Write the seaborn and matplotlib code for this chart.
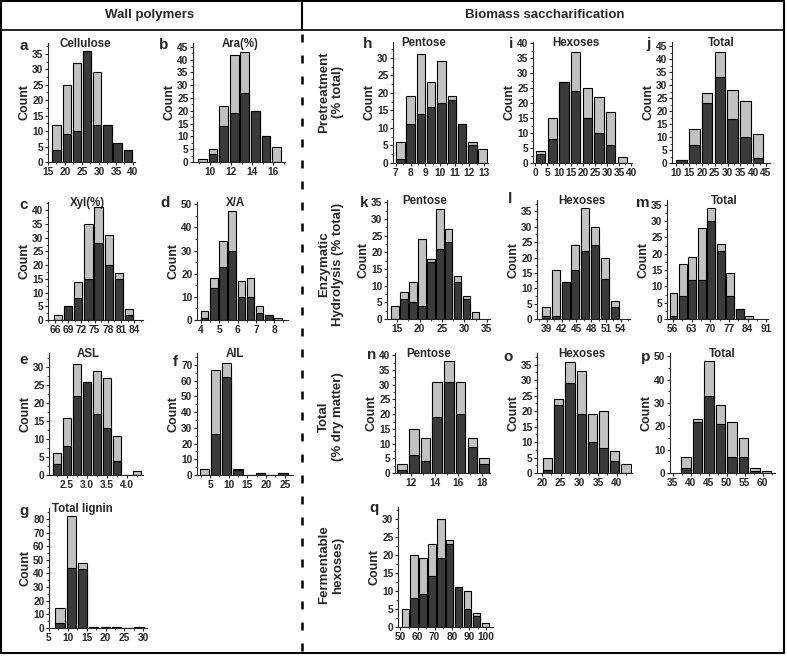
import matplotlib
matplotlib.use("Agg")
import matplotlib.pyplot as plt
from matplotlib.ticker import AutoMinorLocator
import seaborn as sns

# ---- data (bin centre, total count, dark subset count) ----
cellulose_bins = [17.5, 20.5, 23.5, 26.5, 29.5, 32.5, 35.5, 38.5]
cellulose_total = [12, 25, 32, 36, 29, 12, 6, 4]
cellulose_dark = [4, 9, 10, 36, 12, 12, 6, 4]

ara_bins = [9.3, 10.3, 11.3, 12.3, 13.3, 14.3, 15.3, 16.3]
ara_total = [1, 5, 22, 42, 43, 20, 10, 6]
ara_dark = [0, 3, 14, 19, 27, 20, 10, 0]

xyl_bins = [66.7, 69.0, 71.3, 73.6, 75.9, 78.2, 80.5, 82.8]
xyl_total = [2, 5, 14, 35, 41, 31, 17, 4]
xyl_dark = [0, 5, 8, 15, 28, 20, 15, 2]

xa_bins = [4.2, 4.7, 5.2, 5.7, 6.2, 6.7, 7.2, 7.7, 8.2]
xa_total = [4, 18, 34, 47, 17, 18, 6, 2, 1]
xa_dark = [1, 14, 23, 30, 10, 10, 3, 2, 0]

asl_bins = [2.25, 2.5, 2.75, 3.0, 3.25, 3.5, 3.75, 4.0, 4.25]
asl_total = [6, 16, 31, 26, 29, 27, 11, 0, 1]
asl_dark = [3, 8, 22, 26, 17, 13, 4, 0, 0]

ail_bins = [3.5, 6.5, 9.5, 12.5, 15.5, 18.5, 21.5, 24.5]
ail_total = [4, 67, 71, 4, 0, 1, 0, 1]
ail_dark = [0, 26, 62, 3, 0, 1, 0, 1]

lignin_bins = [7.9, 10.9, 13.9, 16.9, 19.9, 22.9, 25.9, 28.9]
lignin_total = [15, 82, 48, 1, 1, 1, 0, 1]
lignin_dark = [4, 44, 43, 1, 1, 1, 0, 1]

pt_pent_bins = [7.3, 8.0, 8.7, 9.4, 10.1, 10.8, 11.5, 12.2, 12.9]
pt_pent_total = [6, 19, 31, 23, 29, 19, 11, 6, 4]
pt_pent_dark = [1, 11, 14, 16, 17, 18, 11, 5, 0]

pt_hex_bins = [2.2, 7.1, 12.0, 16.8, 21.7, 26.6, 31.5, 36.4]
pt_hex_total = [4, 15, 27, 37, 25, 22, 17, 2]
pt_hex_dark = [3, 8, 27, 24, 15, 10, 6, 0]

pt_tot_bins = [12, 17, 22, 27, 32, 37, 42]
pt_tot_total = [1, 13, 27, 43, 28, 24, 11]
pt_tot_dark = [1, 7, 23, 33, 17, 10, 2]

eh_pent_bins = [14.5, 16.5, 18.5, 20.5, 22.5, 24.5, 26.5, 28.5, 30.5, 32.5]
eh_pent_total = [4, 8, 11, 24, 18, 33, 27, 13, 7, 2]
eh_pent_dark = [0, 6, 5, 4, 17, 21, 23, 11, 6, 0]

eh_hex_bins = [38.8, 40.8, 42.8, 44.8, 46.8, 48.8, 50.8, 52.8]
eh_hex_total = [4, 16, 12, 24, 36, 30, 20, 6]
eh_hex_dark = [1, 1, 12, 16, 22, 24, 13, 4]

eh_tot_bins = [56.2, 59.75, 63.3, 66.85, 70.4, 73.95, 77.5, 81.05, 84.6]
eh_tot_total = [8, 17, 19, 28, 34, 23, 14, 3, 1]
eh_tot_dark = [1, 7, 12, 12, 30, 21, 7, 3, 0]

dm_pent_bins = [11.2, 12.2, 13.2, 14.2, 15.2, 16.2, 17.2, 18.2]
dm_pent_total = [3, 15, 12, 31, 38, 31, 12, 5]
dm_pent_dark = [1, 6, 4, 19, 31, 20, 9, 3]

dm_hex_bins = [21.5, 24.5, 27.5, 30.5, 33.5, 36.5, 39.5, 42.5]
dm_hex_total = [5, 24, 36, 33, 19, 20, 7, 3]
dm_hex_dark = [1, 22, 29, 19, 10, 8, 4, 0]

dm_tot_bins = [38.7, 41.9, 45.1, 48.3, 51.5, 54.7, 57.9, 61.1]
dm_tot_total = [7, 23, 48, 29, 22, 15, 2, 1]
dm_tot_dark = [2, 22, 33, 21, 7, 7, 1, 0]

ferm_bins = [52.8, 58.0, 63.2, 68.4, 73.6, 78.8, 84.0, 89.2, 94.4, 99.6]
ferm_total = [5, 20, 19, 23, 30, 24, 11, 10, 4, 1]
ferm_dark = [0, 8, 9, 14, 19, 23, 11, 5, 3, 0]

LIGHT = "#c2c2c2"
DARK = "#3a3a3a"
W, H = 787, 656

sns.set_style("ticks")
plt.rcParams["font.family"] = ["Liberation Sans", "DejaVu Sans"]
plt.rcParams["font.weight"] = "bold"
plt.rcParams["axes.labelweight"] = "bold"

fig = plt.figure(figsize=(W / 100, H / 100), dpi=100)

# background layer for frame, divider lines and section texts (pixel coords)
bg = fig.add_axes([0, 0, 1, 1])
bg.set_xlim(0, W)
bg.set_ylim(H, 0)
bg.set_axis_off()
bg.plot([1, 784, 784, 1, 1], [1, 1, 653, 653, 1], color="black", lw=1.5)
bg.plot([1, 784], [30, 30], color="black", lw=1.2)
bg.plot([302, 302], [1, 30], color="black", lw=1.5)
bg.plot([302, 302], [34, 653], color="black", lw=1.8, linestyle=(0, (3.2, 5.2)))
bg.text(150, 15, "Wall polymers", ha="center", va="center", fontsize=9.5, fontweight="bold")
bg.text(545, 15, "Biomass saccharification", ha="center", va="center", fontsize=9.5, fontweight="bold")

row_labels = [("Pretreatment\n(% total)", 92), ("Enzymatic\nHydrolysis (% total)", 264),
              ("Total\n(% dry matter)", 417), ("Fermentable\nhexoses)", 565)]
for txt, yc in row_labels:
    bg.text(331, yc, txt, ha="center", va="center", rotation=90, fontsize=9.5,
            fontweight="bold", linespacing=1.3)


def panel(box, bins, total, dark, xlim, ylim, xticks, yticks, title, tx, letter, lpos):
    l, r, t, b = box
    ax = fig.add_axes([l / W, 1 - b / H, (r - l) / W, (b - t) / H])
    sns.barplot(x=bins, y=total, native_scale=True, orient="x", color=LIGHT,
                saturation=1, edgecolor="black", linewidth=0.8, width=0.82,
                errorbar=None, ax=ax)
    sns.barplot(x=bins, y=dark, native_scale=True, orient="x", color=DARK,
                saturation=1, edgecolor="black", linewidth=0.8, width=0.82,
                errorbar=None, ax=ax)
    ax.set_xlim(*xlim)
    ax.set_ylim(*ylim)
    xticks = list(xticks)
    if any(isinstance(v, float) for v in xticks):
        xlabels = [f"{v:.1f}" for v in xticks]
    else:
        xlabels = [str(v) for v in xticks]
    ax.set_xticks(xticks)
    ax.set_xticklabels(xlabels, fontweight="bold")
    ax.set_yticks(list(yticks))
    ax.set_yticklabels([str(v) for v in yticks], fontweight="bold")
    ax.xaxis.set_minor_locator(AutoMinorLocator(2))
    ax.yaxis.set_minor_locator(AutoMinorLocator(2))
    ax.tick_params(which="major", length=2.5, width=0.8, pad=0.8, labelsize=7.3)
    ax.tick_params(which="minor", length=1.5, width=0.6)
    for s in ["left", "bottom"]:
        ax.spines[s].set_linewidth(0.8)
    sns.despine(ax=ax)
    ax.set_xlabel("")
    ax.set_ylabel("Count", fontsize=9, fontweight="bold", labelpad=1)
    if title:
        ax.text(tx, 1.04, title, transform=ax.transAxes, ha="center", va="top",
                fontsize=8.3, fontweight="bold")
    bg.text(lpos[0], lpos[1], letter, ha="center", va="center", fontsize=11,
            fontweight="bold")
    return ax


panel((48, 135, 43, 162), cellulose_bins, cellulose_total, cellulose_dark,
      (15, 40.6), (0, 38.5), [15, 20, 25, 30, 35, 40], range(0, 36, 5),
      "Cellulose", 0.43, "a", (24, 46))
panel((193, 285, 43, 162), ara_bins, ara_total, ara_dark,
      (8.4, 17.1), (0, 46.5), [10, 12, 14, 16], range(0, 46, 5),
      "Ara(%)", 0.51, "b", (164, 45))
panel((48, 143, 202, 320), xyl_bins, xyl_total, xyl_dark,
      (64.4, 86), (0, 43), [66, 69, 72, 75, 78, 81, 84], range(0, 41, 5),
      "Xyl(%)", 0.42, "c", (24, 205))
panel((197, 288, 202, 320), xa_bins, xa_total, xa_dark,
      (3.78, 8.75), (0, 51), [4, 5, 6, 7, 8], range(0, 51, 10),
      "X/A", 0.42, "d", (165, 203))
panel((49, 143, 353, 475), asl_bins, asl_total, asl_dark,
      (2.06, 4.41), (0, 34), [2.5, 3.0, 3.5, 4.0], range(0, 31, 5),
      "ASL", 0.42, "e", (24, 360))
panel((197, 293, 353, 475), ail_bins, ail_total, ail_dark,
      (1.5, 27.2), (0, 77.5), [5, 10, 15, 20, 25], range(0, 71, 10),
      "AIL", 0.40, "f", (175, 362))
panel((49, 147, 508, 628), lignin_bins, lignin_total, lignin_dark,
      (5, 31), (0, 88), [5, 10, 15, 20, 25, 30], range(0, 81, 10),
      "Total lignin", 0.34, "g", (24, 511))

panel((393, 488, 42, 163), pt_pent_bins, pt_pent_total, pt_pent_dark,
      (6.8, 13.27), (0, 34.5), [7, 8, 9, 10, 11, 12, 13], range(0, 31, 5),
      "Pentose", 0.32, "h", (368, 44))
panel((533, 632, 42, 163), pt_hex_bins, pt_hex_total, pt_hex_dark,
      (-1, 40.4), (0, 40.5), range(0, 41, 5), range(0, 41, 5),
      "Hexoses", 0.43, "i", (511, 44))
panel((672, 770, 42, 163), pt_tot_bins, pt_tot_total, pt_tot_dark,
      (8.3, 46.6), (0, 46.7), range(10, 46, 5), range(0, 46, 5),
      "Total", 0.5, "j", (648, 44))

panel((387, 490, 200, 319), eh_pent_bins, eh_pent_total, eh_pent_dark,
      (12.7, 35.7), (0, 35.7), [15, 20, 25, 30, 35], range(0, 36, 5),
      "Pentose", 0.37, "k", (364, 203))
panel((537, 630, 200, 319), eh_hex_bins, eh_hex_total, eh_hex_dark,
      (37, 55.9), (0, 38.7), [39, 42, 45, 48, 51, 54], range(0, 36, 5),
      "Hexoses", 0.48, "l", (510, 199))
panel((667, 768, 200, 319), eh_tot_bins, eh_tot_total, eh_tot_dark,
      (53.8, 91.6), (0, 36.5), [56, 63, 70, 77, 84, 91], range(0, 36, 5),
      "Total", 0.57, "m", (643, 203))

panel((395, 490, 353, 473), dm_pent_bins, dm_pent_total, dm_pent_dark,
      (10.6, 18.7), (0, 40.8), [12, 14, 16, 18], range(0, 41, 5),
      "Pentose", 0.35, "n", (372, 355))
panel((537, 632, 353, 473), dm_hex_bins, dm_hex_total, dm_hex_dark,
      (18.7, 44.1), (0, 38.8), [20, 25, 30, 35, 40], range(0, 36, 5),
      "Hexoses", 0.47, "o", (508, 357))
panel((670, 775, 353, 473), dm_tot_bins, dm_tot_total, dm_tot_dark,
      (34.3, 63.4), (0, 51.4), [35, 40, 45, 50, 55, 60], range(0, 51, 10),
      "Total", 0.5, "p", (646, 357))

panel((398, 493, 507, 627), ferm_bins, ferm_total, ferm_dark,
      (48.6, 104), (0, 33.2), [50, 60, 70, 80, 90, 100], range(0, 31, 5),
      None, 0.5, "q", (374, 508))

fig.savefig("out.png", dpi=100)
